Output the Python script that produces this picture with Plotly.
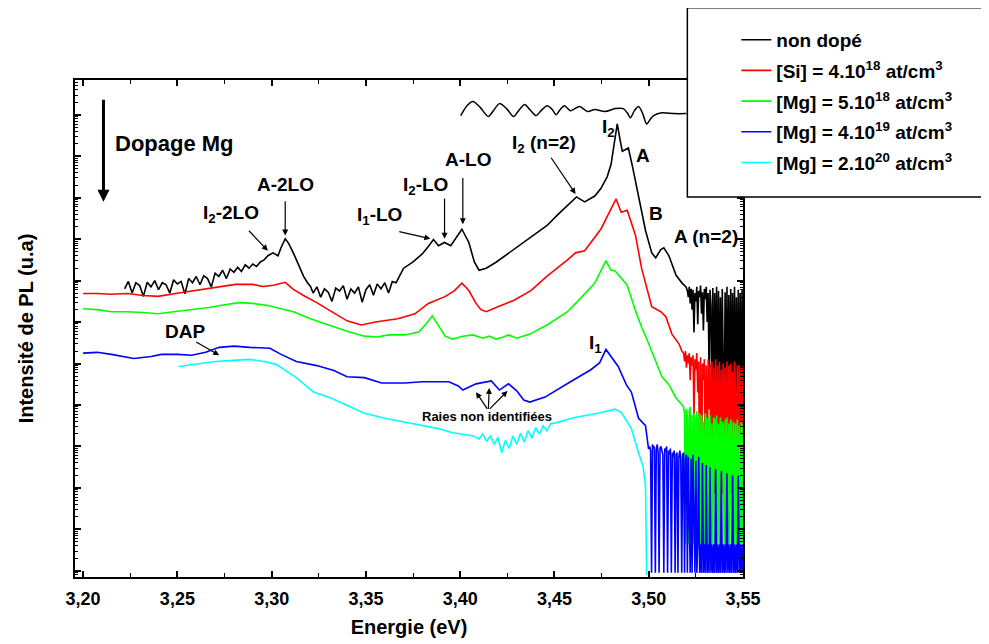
import plotly.graph_objects as go
import math

# ---------------- data (energy in eV, log10 of PL intensity in a.u.) ----------------
# common energy sampling of the noisy high-energy tail
grille_fin = [3.5205,3.5210,3.5215,3.5220,3.5225,3.5230,3.5235,3.5240,3.5245,3.5250,
              3.5255,3.5260,3.5265,3.5270,3.5275,3.5280,3.5285,3.5290,3.5295,3.5300,
              3.5305,3.5310,3.5315,3.5320,3.5325,3.5330,3.5335,3.5340,3.5345,3.5350,
              3.5355,3.5360,3.5365,3.5370,3.5375,3.5380,3.5385,3.5390,3.5395,3.5400,
              3.5405,3.5410,3.5415,3.5420,3.5425,3.5430,3.5435,3.5440,3.5445,3.5450,
              3.5455,3.5460,3.5465,3.5470,3.5475,3.5480,3.5485,3.5490,3.5495,3.5500]
grille_si_mg = [3.5185,3.5190,3.5195,3.5200]
grille_bleu = [3.5005,3.5010,3.5015,3.5020,3.5025,3.5030,3.5035,3.5040,3.5045,3.5050,
               3.5055,3.5060,3.5065,3.5070,3.5075,3.5080,3.5085,3.5090,3.5095,3.5100,
               3.5105,3.5110,3.5115,3.5120,3.5125,3.5130,3.5135,3.5140,3.5145,3.5150,
               3.5155,3.5160,3.5165,3.5170,3.5175,3.5180,3.5185,3.5190,3.5195,3.5200]

noir_E = [3.222,3.224,3.226,3.228,3.230,3.232,3.234,3.236,3.238,3.240,3.242,3.244,3.246,3.248,3.250,
          3.252,3.254,3.256,3.258,3.260,3.262,3.264,3.266,3.268,3.270,3.272,3.274,3.276,3.278,3.280,
          3.282,3.284,3.286,3.288,3.290,3.292,3.294,3.296,
          3.298,3.3007,3.3034,3.305,3.3072,3.309,3.3115,3.314,3.3169,3.319,3.3206,
          3.322,3.324,3.326,3.328,3.330,3.332,3.334,3.336,3.338,3.340,3.342,3.344,3.346,3.348,3.350,
          3.352,3.354,3.356,3.358,3.360,3.362,3.364,3.366,
          3.370,3.375,3.380,3.3835,3.3858,3.3885,3.3917,3.3950,3.3980,3.4009,3.4046,3.4075,3.4100,
          3.4138,3.4192,3.4283,3.4370,3.4461,3.4515,3.4569,3.4617,3.4660,3.4714,3.4746,3.4780,3.4800,
          3.4822,3.4833,3.4849,3.4860,3.4880,3.4892,3.4914,3.4930,3.4962,3.4983,3.5016,3.5037,3.5064,
          3.5080,3.5107,3.5145,3.5177,3.5199] + grille_fin
noir_L = [6.80,6.98,6.70,6.95,6.88,6.62,6.96,6.85,7.00,6.78,6.95,6.90,6.70,7.02,6.92,
          6.98,6.68,7.05,6.95,7.10,6.90,7.12,7.05,6.85,7.18,7.10,7.25,7.05,7.28,7.20,
          7.32,7.22,7.38,7.30,7.40,7.34,7.45,7.50,
          7.60,7.67,7.60,7.80,8.01,7.90,7.67,7.40,7.11,6.95,6.86,
          6.70,6.85,6.60,6.80,6.72,6.50,6.82,6.75,6.88,6.55,6.80,6.70,6.85,6.48,6.78,
          6.90,6.65,6.92,6.80,6.95,6.70,6.98,6.95,
          7.30,7.45,7.65,7.85,7.99,7.84,7.92,7.84,8.05,8.24,7.92,7.45,7.25,
          7.30,7.45,7.75,8.02,8.33,8.58,8.82,9.02,8.90,9.04,9.22,9.51,9.80,
          10.42,10.78,10.37,10.12,10.17,10.20,9.75,9.39,8.65,8.21,7.67,7.55,7.75,
          7.79,7.60,7.13,6.94,6.84,
          6.75,6.60,6.85,6.45,6.80,6.30,6.78,5.75,6.70,6.50,
          6.85,5.95,6.75,6.60,6.88,6.20,6.72,5.80,6.80,6.55,
          6.85,6.00,6.70,4.80,6.78,6.40,3.33,6.82,3.33,6.70,
          4.20,6.85,3.33,6.75,3.33,6.60,3.33,6.80,5.00,3.33,
          6.72,3.33,6.85,3.33,6.65,3.33,6.80,3.60,6.70,3.33,
          6.85,3.33,6.60,3.33,6.78,3.33,6.70,3.33,6.80,3.33]

reflect_E = [3.4003,3.4036,3.4068,3.4106,3.4149,3.4176,3.4208,3.4246,3.4283,3.4310,3.4342,3.4369,
             3.4402,3.4429,3.4461,3.4488,3.4509,3.4531,3.4553,3.4585,3.4633,3.4676,3.4714,3.4768,
             3.4822,3.4865,3.4886,3.4903,3.4924,3.4946,3.4968,3.4989,3.5011,3.5026,3.5070,3.5134,3.5199]
reflect_L = [10.98,11.22,11.32,11.18,10.96,11.10,11.27,11.15,10.96,11.10,11.25,11.13,
             10.98,11.10,11.22,11.13,11.00,11.13,11.22,11.10,11.20,11.08,11.13,11.08,
             11.15,11.15,11.05,10.93,11.10,11.20,11.03,10.78,10.91,10.98,11.05,11.03,11.03]

si_E = [3.2000,3.2075,3.2145,3.2236,3.2317,3.2398,3.2490,3.2592,3.2700,3.2808,3.2900,3.2953,3.3010,
        3.3072,3.3115,3.3169,3.3239,3.3314,3.3400,3.3475,3.3550,3.3669,3.3760,3.3831,3.3922,3.3970,
        3.4009,3.4046,3.4084,3.4110,3.4138,3.4200,3.4283,3.4375,3.4461,3.4569,3.4612,3.4660,3.4746,
        3.4800,3.4827,3.4854,3.4886,3.4930,3.4962,3.5016,3.5064,3.5091,3.5123,3.5161,3.5177] \
       + grille_si_mg + grille_fin
si_L = [6.69,6.69,6.67,6.69,6.64,6.62,6.69,6.76,6.84,6.91,6.91,6.86,6.89,
        6.96,6.79,6.64,6.47,6.27,6.03,5.93,6.00,6.08,6.20,6.45,6.62,6.76,
        6.94,6.76,6.45,6.30,6.25,6.37,6.52,6.76,7.11,7.50,7.67,7.72,8.24,
        8.73,8.97,8.65,8.70,8.09,7.30,6.37,6.25,6.13,5.71,5.47,5.29,
        5.25,5.05,5.30,4.90,
        5.20,5.00,5.25,4.60,5.15,4.95,5.20,3.70,5.10,4.85,
        5.25,4.30,5.05,1.86,5.15,1.86,5.00,4.60,5.10,1.86,
        4.95,1.86,5.10,3.90,5.00,1.86,5.05,1.86,4.90,1.86,
        5.10,1.86,4.95,1.86,5.05,1.86,4.85,1.86,5.00,1.86,
        4.90,1.86,5.05,1.86,4.95,3.20,5.00,1.86,4.80,1.86,
        5.05,4.40,1.86,4.95,1.86,5.00,1.86,4.90,1.86,4.95]

mg5e18_E = [3.2000,3.2075,3.2150,3.2236,3.2317,3.2398,3.2480,3.2576,3.2668,3.2750,3.2830,3.2900,
            3.2980,3.3050,3.3115,3.3206,3.3314,3.3400,3.3492,3.3560,3.3620,3.3707,3.3780,3.3820,
            3.3852,3.3885,3.3920,3.3960,3.4014,3.4068,3.4120,3.4154,3.4190,3.4230,3.4256,3.4300,
            3.4369,3.4461,3.4569,3.4623,3.4714,3.4773,3.4800,3.4822,3.4860,3.4886,3.4930,3.4962,
            3.4999,3.5070,3.5107,3.5145,3.5177] + grille_si_mg + grille_fin
mg5e18_L = [6.32,6.30,6.25,6.25,6.23,6.20,6.25,6.30,6.35,6.42,6.47,6.45,
            6.40,6.32,6.25,6.08,5.91,5.78,5.66,5.64,5.69,5.69,5.76,5.96,
            6.15,5.91,5.66,5.59,5.66,5.69,5.61,5.66,5.59,5.64,5.69,5.61,
            5.71,5.93,6.25,6.50,6.94,7.48,7.25,7.23,7.03,6.89,6.27,5.88,
            5.49,4.68,4.49,4.17,4.00,
            3.95,3.80,0.64,3.90,
            3.70,0.64,3.85,3.95,0.64,3.75,0.64,3.80,3.65,0.64,
            3.85,0.64,3.70,3.80,0.64,3.75,0.64,3.60,0.64,3.80,
            3.65,0.64,3.70,0.64,3.75,0.64,3.55,0.64,3.70,3.60,
            0.64,3.75,0.64,3.55,0.64,3.70,0.64,3.60,3.50,0.64,
            3.65,0.64,3.70,0.64,3.55,0.64,3.65,3.50,0.64,3.60,
            0.64,3.55,0.64,3.65,0.64,3.50,0.64,3.60,0.64,3.55]

mg4e19_E = [3.2000,3.2075,3.2150,3.2269,3.2361,3.2415,3.2500,3.2576,3.2650,3.2722,3.2800,3.2883,
            3.2991,3.3050,3.3131,3.3239,3.3330,3.3400,3.3492,3.3583,3.3707,3.3800,3.3939,3.3990,
            3.4014,3.4084,3.4165,3.4208,3.4256,3.4300,3.4337,3.4369,3.4450,3.4515,3.4585,3.4693,
            3.4740,3.4773,3.4838,3.4881,3.4908,3.4946,3.4983,3.4999] + grille_bleu + grille_fin
mg4e19_L = [5.25,5.27,5.22,5.12,5.17,5.22,5.22,5.20,5.27,5.39,5.42,5.39,
            5.37,5.22,5.05,4.95,4.83,4.68,4.66,4.53,4.53,4.56,4.56,4.46,
            4.36,4.51,4.58,4.36,4.51,4.34,4.12,4.07,4.19,4.36,4.56,4.85,
            5.02,5.34,4.93,4.49,4.31,3.68,3.50,2.94,
            3.00,2.90,-0.05,3.05,2.95,3.00,-0.05,2.90,3.05,2.85,
            -0.05,2.95,3.00,2.90,2.80,-0.05,2.95,2.85,3.00,-0.05,
            2.90,2.80,2.95,-0.05,2.85,2.75,2.90,-0.05,2.80,2.85,
            -0.05,2.75,2.90,2.70,-0.05,2.80,2.85,-0.05,2.70,2.80,
            -0.05,2.75,0.64,-0.05,2.70,-0.05,2.80,0.64,-0.05,2.65,
            -0.05,0.64,2.75,-0.05,0.64,-0.05,2.60,-0.05,0.64,-0.05,
            2.55,-0.05,0.64,-0.05,2.50,-0.05,0.64,-0.05,0.64,-0.05,
            2.45,-0.05,0.64,-0.05,0.64,-0.05,2.40,-0.05,0.64,-0.05,
            0.64,-0.05,2.35,-0.05,0.64,-0.05,0.64,-0.05,2.30,-0.05,
            0.64,-0.05,0.64,-0.05,2.30,-0.05,0.64,-0.05,0.64,-0.05]

mg2e20_E = [3.2506,3.2600,3.2700,3.2775,3.2883,3.2960,3.3023,3.3131,3.3222,3.3314,3.3400,3.3492,
            3.3600,3.3707,3.3800,3.3885,3.3960,3.4068,
            3.410,3.412,3.414,3.416,3.418,3.420,3.422,3.424,3.426,3.428,3.430,3.432,3.434,3.436,
            3.438,3.440,3.442,3.444,3.446,3.448,
            3.4515,3.4606,3.4730,3.4822,3.4854,3.4908,3.4946,3.4970,3.4983,3.4989]
mg2e20_L = [4.93,4.98,5.05,5.07,5.10,5.05,4.98,4.66,4.31,4.17,4.00,3.80,
            3.68,3.58,3.50,3.43,3.33,3.26,
            3.18,3.30,3.12,3.26,3.05,3.22,2.85,3.15,2.95,3.25,3.05,3.32,3.10,3.38,
            3.20,3.45,3.30,3.50,3.38,3.55,
            3.58,3.70,3.80,3.90,3.82,3.43,2.84,2.52,2.03,-0.10]

series_names = ["non dopé",
                "[Si] = 4.10<sup>18</sup> at/cm<sup>3</sup>",
                "[Mg] = 5.10<sup>18</sup> at/cm<sup>3</sup>",
                "[Mg] = 4.10<sup>19</sup> at/cm<sup>3</sup>",
                "[Mg] = 2.10<sup>20</sup> at/cm<sup>3</sup>"]
series_colors = ["#000000", "#FF0000", "#00FF00", "#0000FF", "#00FFFF"]

x_ticks = [3.20, 3.25, 3.30, 3.35, 3.40, 3.45, 3.50, 3.55]

FONT = "Liberation Sans, Arial, sans-serif"

fig = go.Figure()
fig.add_trace(go.Scatter(x=reflect_E, y=reflect_L, mode="lines", showlegend=False,
                         line=dict(color="#000000", width=1.5, shape="spline", smoothing=0.8),
                         hoverinfo="skip"))
data = [(noir_E, noir_L), (si_E, si_L), (mg5e18_E, mg5e18_L), (mg4e19_E, mg4e19_L), (mg2e20_E, mg2e20_L)]
for i, ((ex, ly), nm, col) in enumerate(zip(data, series_names, series_colors)):
    fig.add_trace(go.Scatter(x=ex, y=ly, mode="lines", name=nm, legendgroup=f"g{i}",
                             line=dict(color=col, width=1.6)))

# y minor ticks (log decades)
minor_vals = []
for n in range(-1, 12):
    for k in range(2, 10):
        v = n + math.log10(k)
        if -0.15 <= v <= 11.84:
            minor_vals.append(v)

# the page body adds an 8px offset: figure sized so the plot lands at x 75-735, y 80-569
fig.update_layout(
    width=981, height=636,
    margin=dict(l=67, r=246, t=72, b=67, autoexpand=False),
    paper_bgcolor="white", plot_bgcolor="white",
    separators=", ",
    font=dict(family=FONT, size=15, color="black", weight="bold"),
    showlegend=True,
    legend=dict(x=0.99, y=1.119, xanchor="left", yanchor="top",
                bgcolor="rgba(0,0,0,0)", borderwidth=0,
                font=dict(family=FONT, size=19, color="black", weight="bold"),
                traceorder="grouped", tracegroupgap=3),
    xaxis=dict(range=[3.1957, 3.55], tickvals=x_ticks, tickformat=".2f",
               showline=True, linecolor="black", linewidth=2, mirror="ticks",
               ticks="inside", ticklen=6, tickwidth=1.5, tickcolor="black",
               minor=dict(dtick=0.025, tick0=3.2, ticks="inside", ticklen=4, tickwidth=1.2, tickcolor="black"),
               showgrid=False, zeroline=False,
               tickfont=dict(family=FONT, size=18, weight="bold"),
               ticklabelstandoff=4,
               title=dict(text="Energie (eV)", font=dict(family=FONT, size=20, weight="bold"), standoff=12)),
    yaxis=dict(range=[-0.15, 11.84], tickvals=list(range(0, 12)), showticklabels=False,
               showline=True, linecolor="black", linewidth=2, mirror="ticks",
               ticks="inside", ticklen=6, tickwidth=1.5, tickcolor="black",
               minor=dict(tickvals=minor_vals, ticks="inside", ticklen=3, tickwidth=1, tickcolor="black"),
               showgrid=False, zeroline=False,
               title=dict(text="Intensité de PL (u.a)", font=dict(family=FONT, size=20, weight="bold"), standoff=34)),
)

# legend frame
fig.add_shape(type="rect", xref="paper", yref="paper", x0=0.9167, x1=1.3803, y0=0.7648, y1=1.1452,
              line=dict(color="black", width=1.5), fillcolor="white", layer="above")

texts = [
    ("Dopage Mg", 3.2156, 10.32, "left", 22),
    ("I<sub>2</sub>-2LO", 3.2786, 8.60, "center", 19),
    ("A-2LO", 3.3072, 9.31, "center", 19),
    ("I<sub>1</sub>-LO", 3.3572, 8.55, "center", 19),
    ("I<sub>2</sub>-LO", 3.3815, 9.29, "center", 19),
    ("A-LO", 3.4041, 9.93, "center", 19),
    ("I<sub>2</sub> (n=2)", 3.4445, 10.29, "center", 19),
    ("I<sub>2</sub>", 3.4784, 10.69, "center", 19),
    ("A", 3.4967, 10.02, "center", 19),
    ("B", 3.5037, 8.63, "center", 19),
    ("A (n=2)", 3.5306, 8.06, "center", 19),
    ("DAP", 3.2538, 5.78, "center", 19),
    ("I<sub>1</sub>", 3.4719, 5.47, "center", 19),
    ("Raies non identifiées", 3.4143, 3.73, "center", 13),
]
for t, x, y, xa, fs in texts:
    fig.add_annotation(x=x, y=y, text=t, showarrow=False, xanchor=xa, yanchor="middle",
                       font=dict(family=FONT, size=fs, color="black", weight="bold"))

arrows = [
    # (tip_x, tip_y, tail_x, tail_y, width)
    (3.2108, 8.90, 3.2108, 11.40, 3),
    (3.2980, 7.72, 3.2872, 8.24, 1.2),
    (3.3072, 8.09, 3.3072, 8.95, 1.2),
    (3.3842, 8.01, 3.3669, 8.19, 1.2),
    (3.3917, 8.01, 3.3917, 9.02, 1.2),
    (3.4014, 8.36, 3.4014, 9.51, 1.2),
    (3.4612, 9.09, 3.4477, 10.00, 1.2),
    (3.2722, 5.20, 3.2592, 5.54, 1.2),
    (3.4084, 4.31, 3.4149, 3.87, 1.2),
    (3.4154, 4.41, 3.4149, 3.87, 1.2),
    (3.4251, 4.34, 3.4149, 3.87, 1.2),
]
for tx, ty, ax, ay, w in arrows:
    fig.add_annotation(x=tx, y=ty, ax=ax, ay=ay, xref="x", yref="y", axref="x", ayref="y",
                       text="", showarrow=True, arrowhead=2, arrowsize=1 if w < 2 else 0.8,
                       arrowwidth=w, arrowcolor="black", standoff=0)

fig.write_html("out.html")
